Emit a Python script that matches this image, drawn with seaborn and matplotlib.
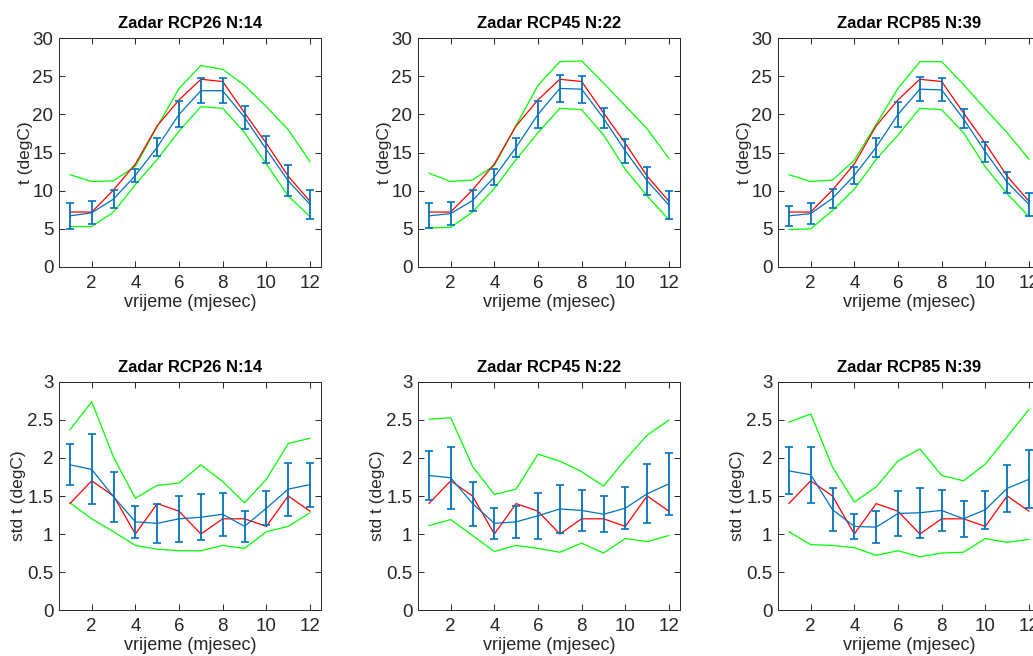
#!/usr/bin/env python3
"""Monthly temperature mean and std for Zadar: observations vs. RCP ensembles."""

import numpy as np
import pandas as pd
import matplotlib
matplotlib.use('Agg')
import matplotlib.pyplot as plt
import seaborn as sns

# ---- data ----
months = np.arange(1, 13)
scenarios = ['RCP26', 'RCP45', 'RCP85']
n_models = [14, 22, 39]

# observed monthly mean temperature (same in every panel)
obs_mean = [7.2, 7.2, 10.1, 13.5, 18.5, 21.9, 24.6, 24.3, 20.2, 16.2, 11.9, 8.6]
# observed monthly std of temperature
obs_std = [1.4, 1.7, 1.5, 1.0, 1.4, 1.3, 1.0, 1.2, 1.2, 1.1, 1.5, 1.3]

# ensemble mean of monthly mean temperature
ens_mean_26 = [6.7, 7.1, 8.9, 12.0, 15.7, 20.0, 23.1, 23.1, 19.6, 15.4, 11.3, 8.2]
ens_mean_45 = [6.7, 7.0, 8.7, 11.8, 15.7, 20.0, 23.4, 23.3, 19.5, 15.2, 11.3, 8.1]
ens_mean_85 = [6.7, 7.0, 9.0, 12.0, 15.7, 20.0, 23.3, 23.2, 19.4, 15.1, 11.1, 8.2]
# spread (std across models) of monthly mean temperature
ens_sd_26 = [1.7, 1.5, 1.15, 0.8, 1.15, 1.7, 1.6, 1.6, 1.5, 1.75, 2.0, 1.85]
ens_sd_45 = [1.65, 1.55, 1.35, 1.05, 1.25, 1.75, 1.75, 1.75, 1.35, 1.55, 1.85, 1.85]
ens_sd_85 = [1.3, 1.35, 1.25, 1.1, 1.25, 1.65, 1.55, 1.5, 1.25, 1.3, 1.35, 1.5]
# model min / max of monthly mean temperature
ens_max_26 = [12.1, 11.2, 11.3, 13.2, 18.4, 23.4, 26.4, 25.9, 23.8, 21.0, 18.0, 13.8]
ens_min_26 = [5.3, 5.3, 7.2, 10.8, 14.1, 17.8, 21.0, 20.8, 17.6, 13.5, 9.3, 6.6]
ens_max_45 = [12.3, 11.2, 11.4, 13.3, 18.6, 23.8, 26.9, 27.0, 24.1, 21.1, 18.1, 14.2]
ens_min_45 = [5.1, 5.2, 7.2, 10.3, 14.1, 17.6, 20.8, 20.6, 17.3, 12.8, 9.3, 6.2]
ens_max_85 = [12.1, 11.2, 11.4, 14.0, 18.7, 23.4, 26.9, 26.9, 23.9, 20.7, 17.6, 14.1]
ens_min_85 = [4.9, 5.0, 7.4, 10.2, 14.1, 17.3, 20.8, 20.6, 17.6, 13.1, 9.6, 6.6]

# ensemble mean of monthly std of temperature
std_mean_26 = [1.91, 1.85, 1.49, 1.16, 1.14, 1.20, 1.22, 1.26, 1.10, 1.34, 1.59, 1.65]
std_mean_45 = [1.77, 1.74, 1.40, 1.14, 1.16, 1.24, 1.33, 1.31, 1.26, 1.34, 1.53, 1.66]
std_mean_85 = [1.83, 1.78, 1.32, 1.10, 1.09, 1.27, 1.28, 1.31, 1.20, 1.32, 1.60, 1.72]
std_sd_26 = [0.27, 0.46, 0.33, 0.21, 0.26, 0.30, 0.30, 0.28, 0.20, 0.22, 0.35, 0.29]
std_sd_45 = [0.32, 0.41, 0.29, 0.20, 0.21, 0.30, 0.32, 0.27, 0.24, 0.28, 0.39, 0.41]
std_sd_85 = [0.31, 0.37, 0.28, 0.16, 0.21, 0.29, 0.33, 0.27, 0.24, 0.25, 0.31, 0.38]
std_max_26 = [2.37, 2.74, 2.01, 1.47, 1.64, 1.67, 1.91, 1.69, 1.41, 1.72, 2.19, 2.26]
std_min_26 = [1.41, 1.20, 1.03, 0.85, 0.80, 0.78, 0.78, 0.85, 0.81, 1.03, 1.10, 1.28]
std_max_45 = [2.51, 2.53, 1.89, 1.52, 1.59, 2.05, 1.96, 1.82, 1.63, 1.98, 2.30, 2.50]
std_min_45 = [1.11, 1.19, 0.98, 0.77, 0.85, 0.81, 0.76, 0.88, 0.75, 0.94, 0.90, 0.98]
std_max_85 = [2.47, 2.58, 1.88, 1.42, 1.62, 1.96, 2.12, 1.77, 1.70, 1.92, 2.28, 2.64]
std_min_85 = [1.03, 0.86, 0.85, 0.82, 0.72, 0.78, 0.70, 0.75, 0.76, 0.94, 0.89, 0.93]

top_rows = [
    (ens_mean_26, ens_sd_26, ens_min_26, ens_max_26),
    (ens_mean_45, ens_sd_45, ens_min_45, ens_max_45),
    (ens_mean_85, ens_sd_85, ens_min_85, ens_max_85),
]
bottom_rows = [
    (std_mean_26, std_sd_26, std_min_26, std_max_26),
    (std_mean_45, std_sd_45, std_min_45, std_max_45),
    (std_mean_85, std_sd_85, std_min_85, std_max_85),
]

# ---- style ----
sns.set_theme(style='ticks')
plt.rcParams['font.family'] = ['Liberation Sans', 'DejaVu Sans']
AX_COLOR = '#262626'
BLUE = '#0072BD'

fig = plt.figure(figsize=(10.33, 6.56), dpi=100)
lefts = [0.0571, 0.4046, 0.7531]
width = 0.2536
row_pos = [(0.593, 0.349), (0.0701, 0.3476)]


def draw_panel(ax, obs, series, ylim, yticks, ylabel, title, label_x):
    mean, sd, lo, hi = series
    df = pd.DataFrame({'month': months, 'obs': obs, 'mean': mean,
                       'lo': lo, 'hi': hi})
    sns.lineplot(data=df, x='month', y='hi', color='#00ff00', lw=0.9, ax=ax)
    sns.lineplot(data=df, x='month', y='lo', color='#00ff00', lw=0.9, ax=ax)
    sns.lineplot(data=df, x='month', y='obs', color='#ff0000', lw=0.9, ax=ax)
    ax.errorbar(df['month'], df['mean'], yerr=sd, color=BLUE, lw=0.9,
                elinewidth=1.3, capsize=3, capthick=1.2)
    ax.set_xlim(0.5, 12.5)
    ax.set_ylim(*ylim)
    ax.set_xticks([2, 4, 6, 8, 10, 12])
    ax.set_yticks(yticks)
    ax.tick_params(direction='in', top=True, right=True, length=4,
                   width=0.7, colors=AX_COLOR, labelsize=13.5)
    ax.tick_params(axis='x', pad=6)
    ax.tick_params(axis='y', pad=4)
    for sp in ax.spines.values():
        sp.set_color(AX_COLOR)
        sp.set_linewidth(0.7)
    ax.set_xlabel('vrijeme (mjesec)', fontsize=13, color=AX_COLOR, labelpad=1)
    ax.set_ylabel(ylabel, fontsize=12.5, color=AX_COLOR)
    ax.yaxis.set_label_coords(label_x, 0.5)
    ax.set_title(title, fontsize=12, fontweight='bold', color='black', pad=7)


for c, scen in enumerate(scenarios):
    title = f'Zadar {scen} N:{n_models[c]}'
    b, h = row_pos[0]
    ax = fig.add_axes([lefts[c], b, width, h])
    draw_panel(ax, obs_mean, top_rows[c], (0, 30), [0, 5, 10, 15, 20, 25, 30],
               't (degC)', title, -0.1)
    b, h = row_pos[1]
    ax = fig.add_axes([lefts[c], b, width, h])
    draw_panel(ax, obs_std, bottom_rows[c], (0, 3),
               [0, 0.5, 1, 1.5, 2, 2.5, 3], 'std t (degC)', title, -0.125)
    ax.set_yticklabels(['0', '0.5', '1', '1.5', '2', '2.5', '3'])

fig.savefig('out.png', dpi=100)
